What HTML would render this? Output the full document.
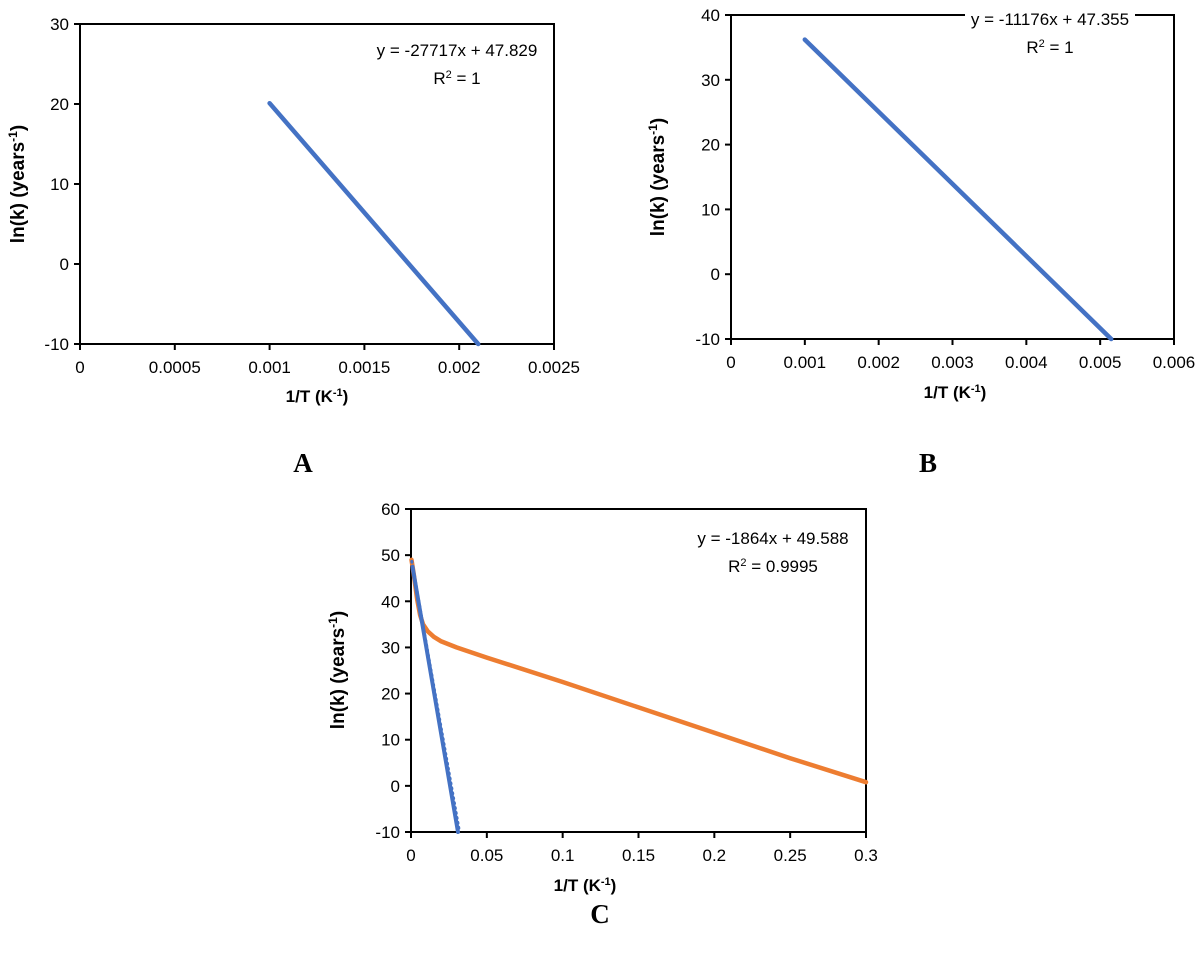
<!DOCTYPE html>
<html><head><meta charset="utf-8"><style>
body{margin:0;background:#fff;}
svg{display:block;font-family:"Liberation Sans",sans-serif;}
</style></head><body>
<svg id="s" width="1200" height="957" viewBox="0 0 1200 957"></svg>
<script>
// Data
const aXTicks=["0","0.0005","0.001","0.0015","0.002","0.0025"];
const aYTicks=[30,20,10,0,-10];
const aSeriesX=[0.001,0.0021];
const aSeriesY=[20.1,-10];
const bXTicks=["0","0.001","0.002","0.003","0.004","0.005","0.006"];
const bYTicks=[40,30,20,10,0,-10];
const bSeriesX=[0.001,0.00515];
const bSeriesY=[36.2,-10];
const cXTicks=["0","0.05","0.1","0.15","0.2","0.25","0.3"];
const cYTicks=[60,50,40,30,20,10,0,-10];
const cBlueX=[0.001,0.031];
const cBlueY=[47.5,-10];
const cOrangeX=[0.0003,0.002,0.004,0.006,0.008,0.011,0.015,0.02,0.03,0.05,0.1,0.15,0.2,0.25,0.3];
const cOrangeY=[49,45.5,40.5,37,35,33.5,32.3,31.3,30,27.8,22.5,17,11.5,6,0.8];
const cTrendSlope=-1864, cTrendIntercept=49.588;

const NS="http://www.w3.org/2000/svg";
const svg=document.getElementById('s');
function el(tag,attrs,parent,text){const e=document.createElementNS(NS,tag);for(const k in attrs)e.setAttribute(k,attrs[k]);if(text!==undefined)e.textContent=text;(parent||svg).appendChild(e);return e;}

function chart(id,L,R,T,B,xmin,xmax,ymin,ymax,xt,yt,xTitlePos,yTitlePos,eq,r2,eqPos){
  const g=el('g',{});
  
  
  const sx=v=>L+(v-xmin)/(xmax-xmin)*(R-L);
  const sy=v=>B-(v-ymin)/(ymax-ymin)*(B-T);
  const box=el('rect',{x:L,y:T,width:R-L,height:B-T,fill:'none',stroke:'#000','stroke-width':2},g);
  
  
  xt.forEach((t,i)=>{const v=parseFloat(t);const x=sx(v);
    el('line',{x1:x,x2:x,y1:B,y2:B+6,stroke:'#000','stroke-width':2},g);
    const tx=el('text',{x:x,y:B+29,'font-size':17,'text-anchor':'middle',fill:'#000'},g,t);
    
    });
  yt.forEach(v=>{const y=sy(v);
    el('line',{x1:L-6,x2:L,y1:y,y2:y,stroke:'#000','stroke-width':2},g);
    const ty=el('text',{x:L-11,y:y+6,'font-size':17,'text-anchor':'end',fill:'#000'},g,String(v));
    
    });
  const xtl=el('text',{x:xTitlePos[0],y:xTitlePos[1],'font-size':17,'font-weight':'bold','text-anchor':'middle'},g);
  
  
  el('tspan',{},xtl,'1/T (K');el('tspan',{'baseline-shift':'super','font-size':11},xtl,'-1');el('tspan',{},xtl,')');
  const ytl=el('text',{x:0,y:0,'font-size':19,'font-weight':'bold','text-anchor':'middle',transform:`translate(${yTitlePos[0]},${yTitlePos[1]}) rotate(-90)`},g);
  
  
  el('tspan',{},ytl,'ln(k) (years');el('tspan',{'baseline-shift':'super','font-size':12},ytl,'-1');el('tspan',{},ytl,')');
  el('rect',{x:eqPos[0]-85,y:eqPos[1]-17,width:170,height:48,fill:'#fff'},g);
  const e1=el('text',{x:eqPos[0],y:eqPos[1],'font-size':17,'text-anchor':'middle'},g,eq);
  
  
  const e2=el('text',{x:eqPos[0],y:eqPos[1]+28,'font-size':17,'text-anchor':'middle'},g);
  
  
  el('tspan',{},e2,'R');el('tspan',{'baseline-shift':'super','font-size':11},e2,'2');el('tspan',{},e2,' = '+r2);
  return {g,sx,sy};
}
function line(c,xs,ys,color,w,name,dash){
  const p=xs.map((x,i)=>c.sx(x).toFixed(1)+','+c.sy(ys[i]).toFixed(1)).join(' ');
  const a={points:p,fill:'none',stroke:color,'stroke-width':w,'stroke-linejoin':'round','stroke-linecap':'round'};
  if(dash)a['stroke-dasharray']=dash;
  const pl=el('polyline',a,c.g);
  
  
}
const A=chart('a',80,554,24,344,0,0.0025,-10,30,aXTicks,aYTicks,[317,402],[24,184],'y = -27717x + 47.829','1',[457,56]);
line(A,aSeriesX,aSeriesY,'#4472c4',4.5,'series-line-a');
const Bc=chart('b',731,1174,15,339,0,0.006,-10,40,bXTicks,bYTicks,[955,398],[664,177],'y = -11176x + 47.355','1',[1050,25]);
line(Bc,bSeriesX,bSeriesY,'#4472c4',4.5,'series-line-b');
const C=chart('c',411,866,509,832,0,0.3,-10,60,cXTicks,cYTicks,[585,891],[344,670],'y = -1864x + 49.588','0.9995',[773,544]);
line(C,cOrangeX,cOrangeY,'#ed7d31',4.5,'orange-series');
line(C,cBlueX,cBlueY,'#4472c4',4,'blue-series');
const tx=[0.0005,(-10-cTrendIntercept)/cTrendSlope];
line(C,tx,tx.map(x=>cTrendSlope*x+cTrendIntercept),'#4472c4',3,'blue-trendline','1 4');
[['A',303,472],['B',928,472],['C',600,923]].forEach(([t,x,y])=>{
  const l=el('text',{x:x,y:y,'font-size':27,'font-weight':'bold','text-anchor':'middle','font-family':'Liberation Serif, serif'},svg,t);
  
  
});
</script>
</body></html>
